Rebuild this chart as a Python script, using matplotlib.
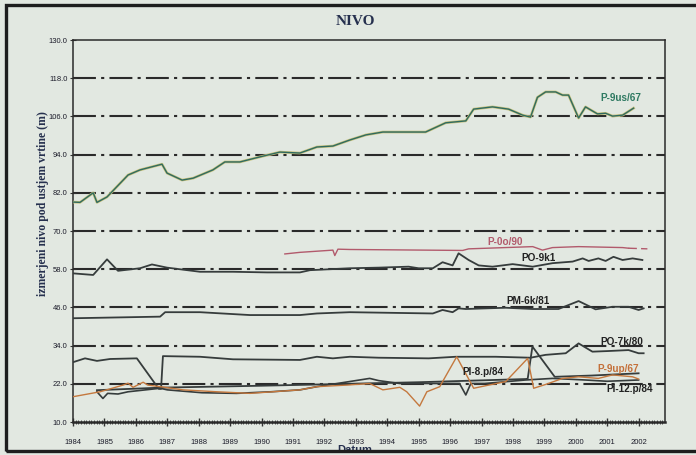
import matplotlib
matplotlib.use('Agg')
import matplotlib.pyplot as plt
import matplotlib.patheffects as pe
from matplotlib.ticker import MultipleLocator
from matplotlib.patches import Rectangle

# values (years as decimals, level in m)
p9us_x = [1984.0, 1984.22, 1984.64, 1984.76, 1985.08, 1985.75, 1986.13, 1986.83, 1986.99, 1987.47,
          1987.82, 1988.45, 1988.83, 1989.31, 1989.95, 1990.58, 1991.22, 1991.76, 1992.27, 1992.81,
          1993.32, 1993.86, 1995.22, 1995.86, 1996.5, 1996.75, 1997.35, 1997.86, 1998.31, 1998.56,
          1998.78, 1999.04, 1999.36, 1999.58, 1999.77, 2000.09, 2000.31, 2000.69, 2000.95, 2001.17,
          2001.49, 2001.84]
p9us_y = [79.1, 79.0, 82.0, 79.0, 80.7, 87.6, 89.2, 91.0, 88.2, 86.0,
          86.6, 89.2, 91.7, 91.7, 93.3, 94.8, 94.5, 96.4, 96.7, 98.6,
          100.2, 101.1, 101.1, 104.0, 104.6, 108.3, 109.0, 108.3, 106.4, 105.8,
          112.0, 113.7, 113.7, 112.7, 112.7, 105.5, 109.0, 106.8, 107.0, 106.1,
          106.4, 108.6]

p0o_x = [1990.74, 1991.22, 1992.27, 1992.33, 1992.43, 1992.81, 1996.4, 1996.59, 1998.63, 1998.94,
         1999.26, 2000.09, 2001.49, 2001.68]
p0o_y = [62.8, 63.3, 64.0, 62.3, 64.3, 64.2, 63.9, 64.4, 65.1, 64.0,
         64.8, 65.1, 64.8, 64.6]
p0o_tail_x = [2001.68, 2002.28]
p0o_tail_y = [64.6, 64.4]

po9k_x = [1984.0, 1984.64, 1985.08, 1985.43, 1986.13, 1986.51, 1986.99, 1988.04, 1989.09, 1990.17,
          1991.22, 1991.54, 1992.81, 1993.73, 1994.68, 1995.0, 1995.45, 1995.76, 1996.08, 1996.27,
          1996.59, 1996.91, 1997.35, 1997.99, 1998.63, 1999.26, 1999.9, 2000.22, 2000.41, 2000.72,
          2000.95, 2001.2, 2001.49, 2001.81, 2002.12]
po9k_y = [56.7, 56.2, 61.1, 57.5, 58.3, 59.5, 58.5, 57.2, 57.2, 57.0,
          57.0, 57.7, 58.3, 58.5, 58.8, 58.3, 58.3, 60.2, 59.2, 63.0,
          60.9, 59.2, 58.8, 59.6, 58.8, 59.9, 60.4, 61.4, 60.6, 61.4,
          60.6, 61.9, 60.9, 61.4, 60.9]

pm6k_x = [1984.0, 1986.77, 1986.93, 1988.04, 1989.63, 1991.22, 1991.76, 1992.81, 1995.45, 1995.76,
          1996.08, 1996.27, 1996.5, 1997.77, 1998.63, 1999.45, 2000.09, 2000.63, 2001.17, 2001.68,
          2002.0, 2002.16]
pm6k_y = [42.6, 43.1, 44.5, 44.5, 43.6, 43.6, 44.1, 44.5, 44.1, 45.2,
          44.5, 45.7, 45.5, 45.9, 45.5, 45.5, 48.0, 45.4, 46.2, 46.2,
          45.2, 45.7]

po7k_x = [1984.0, 1984.38, 1984.76, 1985.18, 1986.03, 1986.73, 1986.8, 1986.86, 1988.04, 1989.09,
          1991.22, 1991.76, 1992.27, 1992.81, 1993.73, 1995.32, 1996.18, 1997.45, 1998.56, 1999.04,
          1999.68, 2000.09, 2000.53, 2001.04, 2001.68, 2002.0, 2002.16]
po7k_y = [28.8, 30.0, 29.2, 29.8, 30.0, 20.4, 20.4, 30.7, 30.5, 29.7,
          29.5, 30.5, 30.0, 30.5, 30.2, 30.0, 30.5, 30.5, 30.2, 31.1,
          31.6, 34.7, 32.1, 32.3, 32.6, 31.6, 31.6]

p9up_x = [1984.0, 1984.86, 1985.59, 1985.75, 1985.91, 1986.23, 1986.38, 1986.77, 1987.5, 1988.58,
          1989.63, 1991.22, 1991.76, 1992.71, 1993.44, 1993.86, 1994.4, 1994.62, 1995.03, 1995.26,
          1995.67, 1996.21, 1996.75, 1997.23, 1997.77, 1998.47, 1998.66, 1999.04, 1999.58, 2000.09,
          2000.72, 2001.17, 2001.81, 2002.0]
p9up_y = [17.95, 19.5, 21.6, 22.2, 20.9, 22.5, 21.6, 21.1, 20.1, 19.5,
          19.0, 20.1, 21.1, 21.6, 22.1, 20.1, 20.9, 19.5, 15.0, 19.5,
          21.1, 30.5, 20.6, 21.6, 22.7, 30.0, 20.6, 21.8, 23.7, 24.2,
          23.7, 24.8, 24.2, 23.5]

pi8_x = [1984.76, 1986.8, 1990.0, 1995.0, 1998.4, 1998.47, 1998.62, 1999.33, 2000.5, 2002.0]
pi8_y = [20.0, 20.8, 21.4, 22.5, 23.5, 23.6, 33.7, 24.2, 24.6, 25.3]

pi12_x = [1984.76, 1984.95, 1985.1, 1985.43, 1985.75, 1986.77, 1987.0, 1988.1, 1989.2, 1990.3,
          1991.22, 1991.76, 1993.44, 1993.73, 1994.4, 1996.3, 1996.5, 1996.66, 1997.1, 1998.4,
          1999.26, 2000.3, 2001.0, 2002.0]
pi12_y = [19.5, 17.4, 19.0, 18.8, 19.5, 20.6, 20.1, 19.2, 19.0, 19.5,
          20.1, 21.1, 23.7, 23.0, 22.1, 22.1, 18.5, 22.1, 22.1, 23.2,
          23.7, 23.2, 22.8, 23.2]

yticks = [10, 22, 34, 46, 58, 70, 82, 94, 106, 118, 130]
years = list(range(1984, 2003))

bg = '#e2e8e1'
dark = '#363c3c'
navy = '#26304e'

fig = plt.figure(figsize=(6.96, 4.55), dpi=100, facecolor=bg)
ax = fig.add_axes([0.105, 0.0725, 0.85, 0.8395])
ax.set_facecolor(bg)

for v in yticks[1:-1]:
    ax.axhline(v, color='#2a2a2a', lw=1.5, ls=(0, (11, 2.5, 1.5, 2.5)), zorder=1)

halo = [pe.Stroke(linewidth=1.9, foreground='#c9c27a'), pe.Normal()]
ax.plot(p9us_x, p9us_y, color='#2f6a60', lw=1.0, path_effects=halo, zorder=3)
ax.plot(p0o_x, p0o_y, color='#b25a6c', lw=1.0, zorder=3)
ax.plot(p0o_tail_x, p0o_tail_y, color='#b25a6c', lw=1.0, ls=(0, (6, 3)), zorder=3)
ax.plot(po9k_x, po9k_y, color=dark, lw=1.3, zorder=3)
ax.plot(pm6k_x, pm6k_y, color=dark, lw=1.3, zorder=3)
ax.plot(po7k_x, po7k_y, color=dark, lw=1.3, zorder=3)
ax.plot(pi12_x, pi12_y, color=dark, lw=1.2, zorder=3)
ax.plot(p9up_x, p9up_y, color='#c4783e', lw=1.0, zorder=4)
ax.plot(pi8_x, pi8_y, color=dark, lw=1.3, zorder=3)

lab = dict(fontsize=7.2, fontweight='bold', family=['Liberation Sans', 'DejaVu Sans'],
           ha='center', va='center', zorder=5)
ax.text(2001.45, 111.8, 'P-9us/67', color='#2f7a62', **lab)
ax.text(1997.74, 66.6, 'P-0o/90', color='#b25a6c', **lab)
ax.text(1998.8, 61.6, 'PO-9k1', color='#222', **lab)
ax.text(1998.47, 48.0, 'PM-6k/81', color='#222', **lab)
ax.text(2001.46, 35.1, 'PO-7k/80', color='#222', **lab)
ax.text(2001.36, 26.7, 'P-9up/67', color='#c4703a', **lab)
ax.text(1997.04, 25.8, 'PI-8.p/84', color='#222', **lab)
ax.text(2001.71, 20.4, 'PI-12.p/84', color='#222', **lab)

ax.set_xlim(1984, 2002.83)
ax.set_ylim(10, 130)
ax.set_yticks(yticks)
ax.set_yticklabels([f'{v:.1f}' for v in yticks])
ax.set_xticks(years)
ax.set_xticklabels([str(y) for y in years])
ax.xaxis.set_minor_locator(MultipleLocator(1 / 12))

tickfont = ['Liberation Sans Narrow', 'Liberation Sans', 'DejaVu Sans']
for t in ax.get_xticklabels() + ax.get_yticklabels():
    t.set_family(tickfont)
    t.set_fontsize(5.5)
    t.set_color('#1c1c2a')
ax.tick_params(axis='x', which='major', direction='inout', length=6, width=1.0, pad=9, color='#333')
ax.tick_params(axis='x', which='minor', direction='inout', length=3, width=0.6, color='#333')
ax.tick_params(axis='y', which='major', direction='inout', length=4, width=0.8, pad=2, color='#333')

for s in ['left', 'top', 'right']:
    ax.spines[s].set_color('#2a2a2a')
    ax.spines[s].set_linewidth(1.1)
ax.spines['bottom'].set_color('#2a2a2a')
ax.spines['bottom'].set_linewidth(1.8)

fig.text(0.511, 0.952, 'NIVO', fontsize=11, fontweight='bold', color=navy,
         family=['Liberation Serif', 'DejaVu Serif'], ha='center', va='center')
fig.text(0.062, 0.552, 'izmerjeni nivo pod ustjem vrtine (m)', fontsize=8.5, fontweight='bold',
         color=navy, family=['Liberation Serif', 'DejaVu Serif'], rotation=90,
         ha='center', va='center')
fig.text(0.51, 0.012, 'Datum', fontsize=8, fontweight='bold', color=navy,
         family=['Liberation Sans', 'DejaVu Sans'], ha='center', va='center')

# dark frame round the scanned figure
fig.patches.append(Rectangle((6 / 696, 4 / 455), 700 / 696, 446 / 455, transform=fig.transFigure,
                             fill=False, edgecolor='#1e1e1e', lw=2.4, zorder=10))

fig.savefig('out.png', dpi=100, facecolor=bg)
